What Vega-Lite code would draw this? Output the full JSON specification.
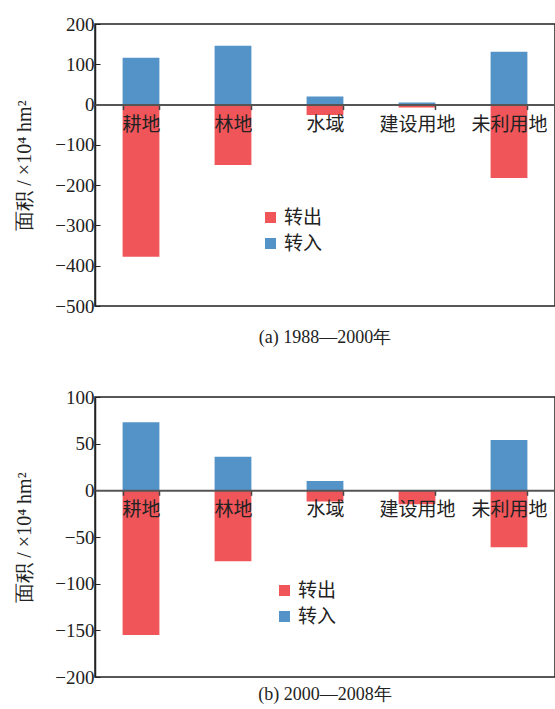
{
  "$schema": "https://vega.github.io/schema/vega-lite/v6.json",
  "padding": {"left": 14, "top": 14, "right": 0, "bottom": 0},
  "background": "white",
  "spacing": 39,
  "config": {
    "font": "Liberation Serif",
    "view": {"stroke": "#222", "strokeWidth": 1.5},
    "axis": {"labelColor": "#222", "titleColor": "#222", "grid": false},
    "title": {"font": "Liberation Serif", "fontWeight": "normal", "fontSize": 18, "color": "#222", "orient": "bottom", "anchor": "middle"},
    "legend": {"labelFont": "Noto Sans CJK SC", "labelFontSize": 19, "labelColor": "#222", "symbolType": "square", "symbolSize": 121, "symbolStrokeWidth": 0, "rowPadding": 6, "labelOffset": 4}
  },
  "datasets": {
    "a": [
      {"land": "耕地", "type": "转入", "value": 116},
      {"land": "耕地", "type": "转出", "value": -378},
      {"land": "林地", "type": "转入", "value": 146},
      {"land": "林地", "type": "转出", "value": -150},
      {"land": "水域", "type": "转入", "value": 20},
      {"land": "水域", "type": "转出", "value": -26},
      {"land": "建设用地", "type": "转入", "value": 5},
      {"land": "建设用地", "type": "转出", "value": -7},
      {"land": "未利用地", "type": "转入", "value": 131},
      {"land": "未利用地", "type": "转出", "value": -182}
    ],
    "b": [
      {"land": "耕地", "type": "转入", "value": 73},
      {"land": "耕地", "type": "转出", "value": -155},
      {"land": "林地", "type": "转入", "value": 36},
      {"land": "林地", "type": "转出", "value": -76},
      {"land": "水域", "type": "转入", "value": 10},
      {"land": "水域", "type": "转出", "value": -12},
      {"land": "建设用地", "type": "转入", "value": 0},
      {"land": "建设用地", "type": "转出", "value": -15},
      {"land": "未利用地", "type": "转入", "value": 54},
      {"land": "未利用地", "type": "转出", "value": -61}
    ]
  },
  "vconcat": [
    {
      "width": 460,
      "height": 282,
      "title": {"text": "(a) 1988—2000年", "offset": 13},
      "data": {"name": "a"},
      "mark": {"type": "bar"},
      "encoding": {
        "x": {
          "field": "land", "type": "nominal", "sort": ["耕地", "林地", "水域", "建设用地", "未利用地"],
          "scale": {"paddingInner": 0.6, "paddingOuter": 0.3},
          "axis": {"title": null, "orient": "bottom", "zindex": 1, "offset": -201.4, "labelAngle": 0, "labelFont": "Noto Sans CJK SC", "labelFontSize": 19, "labelPadding": 6, "tickBand": "extent", "tickSize": 5, "tickWidth": 1.5, "tickColor": "#444", "domainColor": "#555", "domainWidth": 2, "labelOverlap": false, "labelBound": false}
        },
        "y": {
          "field": "value", "type": "quantitative", "stack": null,
          "scale": {"domain": [-500, 200], "nice": false},
          "axis": {"title": "面积 / ×10⁴ hm²", "values": [-500, -400, -300, -200, -100, 0, 100, 200], "labelFont": "Liberation Serif", "labelFontSize": 19, "titleFont": "Liberation Serif", "titleFontSize": 20, "titleFontWeight": "normal", "tickSize": -5, "labelPadding": 6, "tickColor": "#222", "domainColor": "#222", "domainWidth": 1.5, "titlePadding": 20}
        },
        "color": {
          "field": "type", "type": "nominal",
          "scale": {"domain": ["转出", "转入"], "range": ["#F0555A", "#5393C8"]},
          "legend": {"title": null, "orient": "none", "legendX": 166, "legendY": 184}
        }
      }
    },
    {
      "width": 460,
      "height": 280,
      "title": {"text": "(b) 2000—2008年", "offset": -1},
      "data": {"name": "b"},
      "mark": {"type": "bar"},
      "encoding": {
        "x": {
          "field": "land", "type": "nominal", "sort": ["耕地", "林地", "水域", "建设用地", "未利用地"],
          "scale": {"paddingInner": 0.6, "paddingOuter": 0.3},
          "axis": {"title": null, "orient": "bottom", "zindex": 1, "offset": -186.7, "labelAngle": 0, "labelFont": "Noto Sans CJK SC", "labelFontSize": 19, "labelPadding": 5, "tickBand": "extent", "tickSize": 5, "tickWidth": 1.5, "tickColor": "#444", "domainColor": "#555", "domainWidth": 2, "labelOverlap": false, "labelBound": false}
        },
        "y": {
          "field": "value", "type": "quantitative", "stack": null,
          "scale": {"domain": [-200, 100], "nice": false},
          "axis": {"title": "面积 / ×10⁴ hm²", "values": [-200, -150, -100, -50, 0, 50, 100], "labelFont": "Liberation Serif", "labelFontSize": 19, "titleFont": "Liberation Serif", "titleFontSize": 20, "titleFontWeight": "normal", "tickSize": -5, "labelPadding": 6, "tickColor": "#222", "domainColor": "#222", "domainWidth": 1.5, "titlePadding": 20}
        },
        "color": {
          "field": "type", "type": "nominal",
          "scale": {"domain": ["转出", "转入"], "range": ["#F0555A", "#5393C8"]},
          "legend": {"title": null, "orient": "none", "legendX": 180, "legendY": 184}
        }
      }
    }
  ],
  "resolve": {"scale": {"color": "independent"}, "legend": {"color": "independent"}}
}
